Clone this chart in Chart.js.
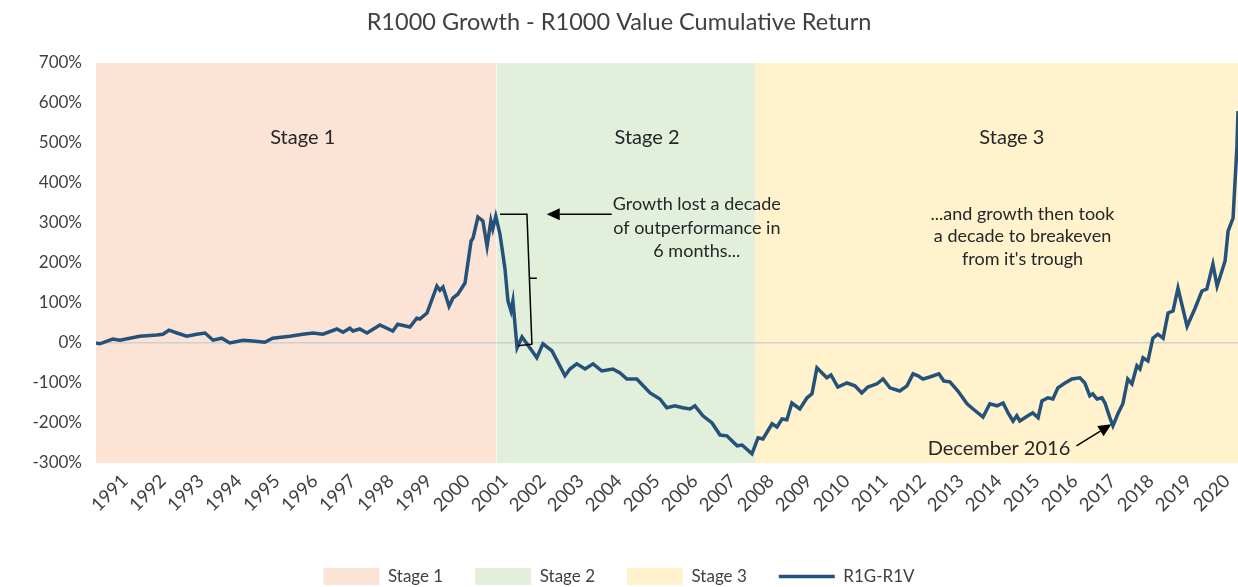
<!DOCTYPE html>
<html>
<head>
<meta charset="utf-8">
<title>R1000 Growth - R1000 Value Cumulative Return</title>
<script src="https://cdn.jsdelivr.net/npm/chart.js@4.4.0/dist/chart.umd.min.js"></script>
<style>
  html, body { margin: 0; padding: 0; background: #ffffff; }
  canvas { display: block; }
</style>
</head>
<body>
<canvas id="myChart" width="1238" height="587"></canvas>
<script>
// Dates as fractional years
const dates = [
    1990.24, 1990.34, 1990.68, 1990.87,
    1991.39, 1991.84,
    1992.00, 1992.16, 1992.37, 1992.63, 1992.89,
    1993.11, 1993.32, 1993.55, 1993.76,
    1994.11, 1994.37, 1994.68, 1994.89,
    1995.34, 1995.68, 1995.95,
    1996.21, 1996.58, 1996.74, 1996.92,
    1997.00, 1997.18, 1997.37, 1997.71,
    1998.05, 1998.18, 1998.50, 1998.68, 1998.76, 1998.95,
    1999.21, 1999.29, 1999.37, 1999.53, 1999.63, 1999.76, 1999.95,
    2000.11, 2000.16, 2000.29, 2000.42, 2000.53, 2000.63, 2000.68, 2000.76, 2000.87,
    2001.00, 2001.08, 2001.16, 2001.21, 2001.32, 2001.45, 2001.58, 2001.84,
    2002.00, 2002.24, 2002.58, 2002.71, 2002.89,
    2003.11, 2003.32, 2003.55, 2003.84,
    2004.03, 2004.21, 2004.47, 2004.82,
    2005.08, 2005.26, 2005.47, 2005.68, 2005.87,
    2006.00, 2006.21, 2006.45, 2006.66, 2006.84,
    2007.11, 2007.24, 2007.50, 2007.66, 2007.79,
    2008.03, 2008.16, 2008.29, 2008.42, 2008.55, 2008.76, 2008.95,
    2009.08, 2009.21, 2009.47, 2009.58, 2009.76,
    2010.00, 2010.21, 2010.39, 2010.55, 2010.79, 2010.95,
    2011.13, 2011.39, 2011.58, 2011.74, 2011.87,
    2012.00, 2012.18, 2012.42, 2012.55, 2012.71, 2012.92,
    2013.16, 2013.32, 2013.58, 2013.76, 2013.95,
    2014.11, 2014.24, 2014.37, 2014.47, 2014.55, 2014.76, 2014.89,
    2015.03, 2015.13, 2015.29, 2015.42, 2015.55, 2015.74, 2015.92,
    2016.13, 2016.26, 2016.39, 2016.47, 2016.58, 2016.71, 2016.79, 2016.92,
    2017.00, 2017.13, 2017.26, 2017.39, 2017.50, 2017.63, 2017.71, 2017.79, 2017.92,
    2018.05, 2018.18, 2018.32, 2018.45, 2018.58, 2018.71, 2018.95,
    2019.16, 2019.34, 2019.47, 2019.63, 2019.74, 2019.95,
    2020.03, 2020.16, 2020.26, 2020.29
];

// R1G-R1V cumulative return, in %
const spread = [
    0, -2, 10, 7,
    17, 20,
    22, 32, 25, 17, 22,
    25, 7, 12, 0,
    7, 5, 2, 12,
    17, 22, 25,
    22, 35, 27, 37,
    30, 35, 25, 45,
    30, 47, 40, 62, 60, 75,
    142, 132, 140, 92, 112, 122, 150,
    255, 262, 315, 305, 242, 305, 285, 317, 272,
    187, 105, 80, 105, -12, 15, -2, -37,
    -2, -20, -82, -65, -52,
    -65, -52, -70, -65,
    -75, -90, -90, -125,
    -140, -162, -157, -162, -165,
    -157, -182, -200, -230, -232,
    -257, -255, -277, -237, -240,
    -202, -210, -190, -192, -150, -165, -137,
    -127, -62, -87, -80, -110,
    -100, -107, -125, -110, -102, -90,
    -112, -120, -107, -77, -82,
    -90, -85, -77, -95, -97, -120,
    -152, -165, -185, -152, -157,
    -150, -175, -195, -182, -195, -182, -175,
    -187, -145, -137, -140, -112, -100, -90,
    -87, -100, -132, -127, -140, -137, -150, -187,
    -207, -177, -152, -90, -102, -57, -65, -37, -45,
    12, 22, 12, 75, 80, 137, 42,
    87, 130, 135, 197, 142, 205,
    280, 312, 487, 580
];

const stageNames = ['Stage 1', 'Stage 2', 'Stage 3'];
const stageStart = [1990.24, 2000.78, 2007.58];
const stageEnd = [2000.78, 2007.58, 2020.29];
const stageColors = ['#fbe3d6', '#e2efda', '#fff2cc'];

const yearLabels = [1991, 1992, 1993, 1994, 1995, 1996, 1997, 1998, 1999, 2000,
    2001, 2002, 2003, 2004, 2005, 2006, 2007, 2008, 2009, 2010,
    2011, 2012, 2013, 2014, 2015, 2016, 2017, 2018, 2019, 2020];

// annotations, placed in data units
const notes = [
    { lines: ['Stage 1'], x: 1995.68, y: [513], size: 20 },
    { lines: ['Stage 2'], x: 2004.74, y: [513], size: 20 },
    { lines: ['Stage 3'], x: 2014.34, y: [513], size: 20 },
    { lines: ['Growth lost a decade', 'of outperformance in', '6 months...'], x: 2006.05, y: [347, 288, 230], size: 18 },
    { lines: ['...and growth then took', 'a decade to breakeven', "from it's trough"], x: 2014.62, y: [323, 267, 209], size: 18 },
    { lines: ['December 2016'], x: 2014.0, y: [-265], size: 20 }
];
const arrows = [
    { from: [2003.81, 322], to: [2002.10, 322] },
    { from: [2016.04, -257], to: [2016.96, -203] }
];
const bracket = [[2000.87, 322], [2001.58, 322], [2001.71, -3], [2001.34, -7]];
const bracketTick = [[2001.64, 162], [2001.84, 162]];

const textColor = '#404040';
const fontFamily = 'Lato, "Open Sans", sans-serif';

const notesPlugin = {
    id: 'notes',
    afterDatasetsDraw(chart) {
        const { ctx } = chart;
        const xs = chart.scales.x, ys = chart.scales.y;
        const px = p => [xs.getPixelForValue(p[0]), ys.getPixelForValue(p[1])];
        ctx.save();
        ctx.fillStyle = '#262626';
        ctx.textAlign = 'center';
        ctx.textBaseline = 'middle';
        notes.forEach(n => {
            ctx.font = n.size + 'px ' + fontFamily;
            n.lines.forEach((line, i) => {
                ctx.fillText(line, xs.getPixelForValue(n.x), ys.getPixelForValue(n.y[i]));
            });
        });

        ctx.strokeStyle = '#000000';
        ctx.fillStyle = '#000000';
        ctx.lineWidth = 1.5;
        arrows.forEach(a => {
            const [x1, y1] = px(a.from);
            const [x2, y2] = px(a.to);
            const ang = Math.atan2(y2 - y1, x2 - x1);
            const len = 13, half = 6;
            const bx = x2 - len * Math.cos(ang), by = y2 - len * Math.sin(ang);
            ctx.beginPath();
            ctx.moveTo(x1, y1);
            ctx.lineTo(bx, by);
            ctx.stroke();
            ctx.beginPath();
            ctx.moveTo(x2, y2);
            ctx.lineTo(bx + half * Math.sin(ang), by - half * Math.cos(ang));
            ctx.lineTo(bx - half * Math.sin(ang), by + half * Math.cos(ang));
            ctx.closePath();
            ctx.fill();
        });

        ctx.beginPath();
        bracket.forEach((p, i) => {
            const [bx, by] = px(p);
            if (i === 0) ctx.moveTo(bx, by); else ctx.lineTo(bx, by);
        });
        const t0 = px(bracketTick[0]), t1 = px(bracketTick[1]);
        ctx.moveTo(t0[0], t0[1]);
        ctx.lineTo(t1[0], t1[1]);
        ctx.stroke();
        ctx.restore();
    }
};

const stageSets = stageNames.map((name, i) => ({
    label: name,
    data: [{ x: stageStart[i], y: 700 }, { x: stageEnd[i], y: 700 }],
    backgroundColor: stageColors[i],
    borderColor: 'transparent',
    borderWidth: 0,
    pointRadius: 0,
    pointBorderWidth: 0,
    pointStyle: 'rect',
    fill: 'start'
}));

const ctx = document.getElementById('myChart').getContext('2d');
const myChart = new Chart(ctx, {
    type: 'line',
    data: {
        datasets: [
            ...stageSets,
            {
                label: 'R1G-R1V',
                data: dates.map((d, i) => ({ x: d, y: spread[i] })),
                borderColor: '#24527a',
                backgroundColor: '#24527a',
                borderWidth: 3.5,
                pointRadius: 0,
                pointBorderWidth: 3.5,
                pointStyle: 'line',
                tension: 0,
                fill: false
            }
        ]
    },
    options: {
        responsive: false,
        animation: false,
        layout: { padding: { left: 0, right: 0, top: 0, bottom: -8 } },
        plugins: {
            filler: { drawTime: 'beforeDraw' },
            tooltip: { enabled: false },
            title: {
                display: true,
                text: 'R1000 Growth - R1000 Value Cumulative Return',
                color: textColor,
                font: { family: fontFamily, size: 23.5, weight: 'normal' },
                padding: { top: 8, bottom: 26.8 }
            },
            legend: {
                position: 'bottom',
                labels: {
                    usePointStyle: true,
                    pointStyleWidth: 56,
                    boxHeight: 18,
                    padding: 32,
                    color: textColor,
                    font: { family: fontFamily, size: 17 }
                }
            }
        },
        scales: {
            x: {
                type: 'linear',
                min: 1990.24,
                max: 2020.29,
                afterBuildTicks: scale => {
                    scale.ticks = yearLabels.map(v => ({ value: v }));
                },
                afterFit: scale => {
                    scale.height = 73;
                    scale.paddingLeft = 0;
                    scale.paddingRight = 0;
                },
                ticks: {
                    autoSkip: false,
                    minRotation: 45,
                    maxRotation: 45,
                    padding: 7,
                    color: textColor,
                    font: { family: fontFamily, size: 18.5 },
                    callback: v => String(v)
                },
                grid: { display: false, drawTicks: false },
                border: { display: false }
            },
            y: {
                min: -300,
                max: 700,
                afterFit: scale => { scale.width = 96; },
                ticks: {
                    stepSize: 100,
                    padding: 14,
                    color: textColor,
                    font: { family: fontFamily, size: 17 },
                    callback: v => v + '%'
                },
                grid: {
                    drawTicks: false,
                    color: c => (c.tick && c.tick.value === 0 ? '#d0d0d0' : 'transparent'),
                    lineWidth: 1.5
                },
                border: { display: false }
            }
        }
    },
    plugins: [notesPlugin]
});
</script>
</body>
</html>
